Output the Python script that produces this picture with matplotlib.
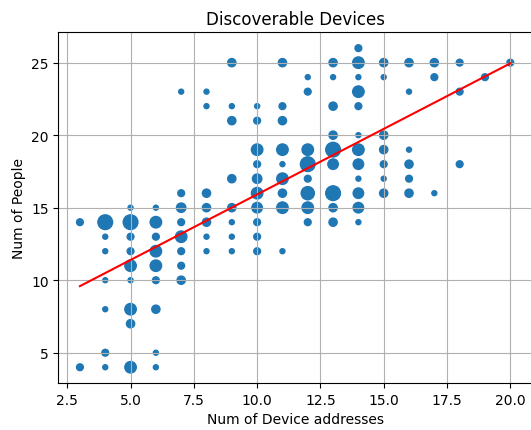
import numpy as np
from matplotlib import pyplot as plt

TITLE = 'Discoverable Devices'
X_LABEL = 'Num of Device addresses'
Y_LABEL = 'Num of People'

# (devices, people, count); marker area grows with count
devices = [
    3, 3,
    4, 4, 4, 4, 4, 4, 4,
    5, 5, 5, 5, 5, 5, 5, 5, 5,
    6, 6, 6, 6, 6, 6, 6, 6, 6,
    7, 7, 7, 7, 7, 7, 7, 7,
    8, 8, 8, 8, 8, 8, 8,
    9, 9, 9, 9, 9, 9, 9, 9, 9,
    10, 10, 10, 10, 10, 10, 10, 10, 10, 10, 10, 10,
    11, 11, 11, 11, 11, 11, 11, 11, 11, 11, 11,
    12, 12, 12, 12, 12, 12, 12, 12, 12, 12,
    13, 13, 13, 13, 13, 13, 13, 13, 13, 13, 13,
    14, 14, 14, 14, 14, 14, 14, 14, 14, 14, 14, 14, 14, 14,
    15, 15, 15, 15, 15, 15, 15,
    16, 16, 16, 16, 16, 16, 16,
    17, 17, 17,
    18, 18, 18,
    19,
    20,
]
people = [
    14, 4,
    14, 13, 12, 10, 8, 5, 4,
    15, 14, 13, 12, 11, 10, 8, 7, 4,
    15, 14, 13, 12, 11, 10, 8, 5, 4,
    23, 16, 15, 14, 13, 12, 11, 10,
    23, 22, 16, 15, 14, 13, 12,
    25, 22, 21, 17, 15, 14, 13, 12, 14,
    22, 21, 19, 18, 17, 16, 15, 14, 13, 12, 20, 11,
    25, 22, 21, 19, 18, 17, 16, 15, 12, 14, 20,
    24, 23, 19, 18, 17, 16, 15, 14, 13, 22,
    25, 24, 22, 20, 19, 18, 16, 15, 14, 21, 17,
    26, 25, 24, 23, 22, 20, 19, 18, 17, 16, 15, 14, 21, 13,
    25, 24, 20, 19, 18, 17, 16,
    25, 23, 19, 18, 17, 16, 24,
    25, 24, 16,
    25, 23, 18,
    24,
    25,
]
counts = [
    2, 2,
    10, 1, 1, 1, 1, 2, 1,
    1, 10, 2, 2, 6, 1, 6, 3, 6,
    1, 6, 2, 6, 6, 2, 3, 1, 1,
    1, 2, 4, 2, 6, 2, 2, 3,
    1, 1, 3, 3, 3, 1, 1,
    3, 1, 3, 3, 3, 1, 1, 1, 0,
    1, 2, 6, 2, 4, 6, 5, 2, 2, 2, 0, 0,
    3, 2, 3, 6, 1, 6, 3, 6, 1, 0, 0,
    1, 2, 6, 10, 2, 8, 6, 2, 0, 0,
    3, 1, 3, 3, 10, 5, 10, 3, 3, 0, 0,
    2, 6, 1, 6, 2, 1, 6, 5, 1, 5, 5, 1, 0, 0,
    3, 1, 3, 3, 2, 1, 3,
    3, 1, 1, 3, 2, 3, 0,
    3, 2, 1,
    2, 2, 2,
    2,
    2,
]

# fitted trend line
SLOPE = 0.9035
INTERCEPT = 6.88


def main():
    x = np.array(devices)
    y = np.array(people)
    c = np.array(counts)
    keep = c > 0
    x, y, c = x[keep], y[keep], c[keep]

    fig = plt.figure(figsize=(5.31, 4.31), dpi=100)
    ax = fig.add_axes([0.110, 0.1086, 0.8915, 0.8144])
    ax.scatter(x, y, s=c * 11 + 2, color='#1f77b4')
    line_x = np.array([x.min(), x.max()])
    ax.plot(line_x, SLOPE * line_x + INTERCEPT, color='red')
    ax.set_title(TITLE)
    ax.set_xlabel(X_LABEL)
    ax.set_ylabel(Y_LABEL)
    ax.grid(True)
    fig.savefig('out.png', dpi=100)


if __name__ == '__main__':
    main()
